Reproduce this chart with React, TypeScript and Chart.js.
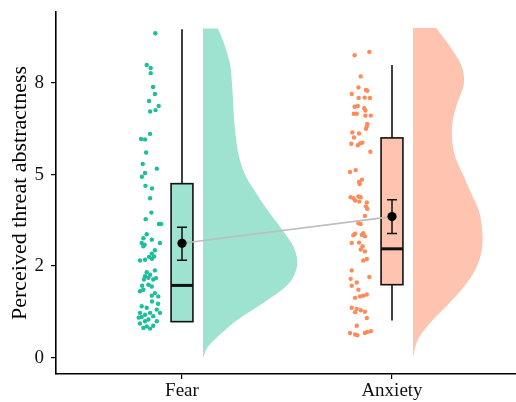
import { useEffect, useRef } from 'react';
import { Chart, registerables } from 'chart.js';

Chart.register(...registerables);

// ---------- data ----------
const categories = ['Fear', 'Anxiety'];
const categoryX = [1, 2];
const yTickValues = [0, 2.5, 5, 7.5];
const yTickLabels = ['0', '2', '5', '8'];
const yTitle = 'Perceived threat abstractness';

const fearValues = [
  8.86, 7.99, 7.91, 7.77, 7.39, 7.2, 7.01, 6.87, 6.76, 6.72, 6.11, 5.97, 5.96, 5.6, 5.29, 5.16, 5.04, 4.94, 4.69,
  4.62, 4.35, 3.96, 3.78, 3.65, 3.65, 3.37, 3.26, 3.22, 3.13, 3.08, 3.13, 3.04, 2.93, 2.84, 2.76, 2.75, 2.65, 2.67,
  2.7, 2.38, 2.33, 2.26, 2.22, 2.18, 2.13, 2.13, 2.17, 1.96, 1.99, 1.94, 1.85, 1.81, 1.76, 1.69, 1.67, 1.4, 1.36,
  1.31, 1.22, 1.17, 1.22, 1.22, 1.13, 1.11, 1.04, 0.99, 0.99, 0.93, 0.85, 0.87, 0.81, 0.79, 1.09, 1.47, 1.53,
];
const fearJitterX = [
  0.873, 0.832, 0.851, 0.851, 0.862, 0.871, 0.843, 0.889, 0.874, 0.848, 0.848, 0.805, 0.824, 0.829, 0.813, 0.88,
  0.824, 0.809, 0.826, 0.857, 0.848, 0.854, 0.827, 0.89, 0.9, 0.832, 0.816, 0.856, 0.808, 0.822, 0.895, 0.816,
  0.871, 0.856, 0.867, 0.843, 0.8, 0.824, 0.857, 0.871, 0.832, 0.848, 0.824, 0.84, 0.819, 0.863, 0.876, 0.81,
  0.84, 0.856, 0.816, 0.8, 0.871, 0.856, 0.887, 0.808, 0.832, 0.88, 0.8, 0.824, 0.848, 0.895, 0.863, 0.808,
  0.84, 0.824, 0.88, 0.8, 0.832, 0.863, 0.816, 0.848, 0.794, 0.886, 0.857,
];

const anxietyValues = [
  8.26, 8.35, 7.68, 7.38, 7.31, 7.29, 7.2, 7.09, 7.1, 7.09, 6.85, 6.87, 6.81, 6.75, 6.66, 6.66, 6.61, 6.61, 6.38,
  6.31, 6.25, 6.15, 6.12, 6.01, 5.84, 5.8, 5.85, 5.87, 5.62, 5.07, 5.12, 4.86, 4.8, 4.74, 4.38, 4.38, 4.35, 4.4,
  4.29, 4.26, 4.24, 4.13, 4.06, 3.87, 3.67, 3.65, 3.38, 3.34, 3.35, 3.31, 3.4, 3.13, 3.14, 3.04, 2.95, 2.9, 2.65,
  2.69, 2.38, 2.2, 2.15, 2.05, 1.96, 1.85, 1.69, 1.67, 1.72, 1.63, 1.36, 1.33, 1.29, 1.25, 1.24, 1.08, 0.87, 0.67,
  0.63, 0.61, 0.67, 0.7, 0.72,
];
const anxietyJitterX = [
  1.822, 1.892, 1.851, 1.84, 1.876, 1.882, 1.808, 1.841, 1.87, 1.895, 1.822, 1.837, 1.868, 1.873, 1.818, 1.832,
  1.873, 1.899, 1.882, 1.88, 1.876, 1.811, 1.843, 1.819, 1.806, 1.837, 1.848, 1.859, 1.897, 1.8, 1.827, 1.857,
  1.843, 1.846, 1.803, 1.851, 1.816, 1.84, 1.824, 1.844, 1.88, 1.876, 1.882, 1.871, 1.84, 1.851, 1.824, 1.816,
  1.856, 1.871, 1.863, 1.808, 1.843, 1.86, 1.851, 1.871, 1.863, 1.88, 1.808, 1.892, 1.803, 1.832, 1.808, 1.84,
  1.863, 1.848, 1.88, 1.824, 1.808, 1.832, 1.851, 1.871, 1.824, 1.88, 1.832, 1.8, 1.824, 1.835, 1.871, 1.882,
  1.899,
];

// box-plot statistics per category
const whiskerLow = [0.98, 1.01];
const boxQ1 = [0.98, 1.99];
const boxMedian = [1.97, 2.97];
const boxQ3 = [4.75, 6.0];
const whiskerHigh = [8.97, 7.99];

// means with error bars
const meanValues = [3.12, 3.85];
const meanLow = [2.66, 3.39];
const meanHigh = [3.56, 4.31];

// half-violin density outlines (level, half-width in x units)
const fearViolinLevels = [0, 0.25, 0.5, 1.0, 1.5, 2.0, 2.5, 3.0, 3.5, 4.0, 4.5, 5.0, 5.5, 6.0, 6.5, 7.0, 7.5, 8.0, 8.5, 8.99];
const fearViolinWidths = [0, 0.019, 0.057, 0.157, 0.29, 0.405, 0.448, 0.433, 0.376, 0.31, 0.252, 0.2, 0.171, 0.157, 0.148, 0.143, 0.138, 0.129, 0.105, 0.071];
const anxietyViolinLevels = [0, 0.5, 1.0, 1.5, 2.0, 2.5, 3.0, 3.5, 4.0, 4.5, 5.0, 5.5, 6.0, 6.5, 7.0, 7.5, 8.0, 8.5, 9.0];
const anxietyViolinWidths = [0, 0.024, 0.09, 0.176, 0.252, 0.305, 0.329, 0.329, 0.314, 0.276, 0.238, 0.2, 0.186, 0.19, 0.214, 0.243, 0.229, 0.176, 0.11];

const pointColors = ['#1CBE9B', '#FF8B58'];
const fillColors = ['#9DE3CF', '#FFC4B0'];

const violinOffset = 0.1;
const boxHalf = 0.052;
const capHalf = 0.024;

const FONT = "'Liberation Serif', 'Times New Roman', serif";

function splinePath(ctx: CanvasRenderingContext2D, pts: { x: number; y: number }[]) {
  for (let i = 0; i < pts.length - 1; i++) {
    const p0 = pts[i - 1] || pts[i];
    const p1 = pts[i];
    const p2 = pts[i + 1];
    const p3 = pts[i + 2] || p2;
    const c1x = p1.x + (p2.x - p0.x) / 6;
    const c1y = p1.y + (p2.y - p0.y) / 6;
    const c2x = p2.x - (p3.x - p1.x) / 6;
    const c2y = p2.y - (p3.y - p1.y) / 6;
    ctx.bezierCurveTo(c1x, c1y, c2x, c2y, p2.x, p2.y);
  }
}

const rainPlugin = {
  id: 'raincloud',
  beforeDatasetsDraw(chart: any) {
    const { ctx, chartArea } = chart;
    const xs = chart.scales.x;
    const ys = chart.scales.y;
    const violins = [
      { levels: fearViolinLevels, widths: fearViolinWidths },
      { levels: anxietyViolinLevels, widths: anxietyViolinWidths },
    ];
    ctx.save();
    ctx.beginPath();
    ctx.rect(chartArea.left, chartArea.top, chartArea.right - chartArea.left, chartArea.bottom - chartArea.top);
    ctx.clip();

    categoryX.forEach((cx, i) => {
      // half violin
      const base = cx + violinOffset;
      const v = violins[i];
      const pts = v.levels.map((lv, k) => ({ x: xs.getPixelForValue(base + v.widths[k]), y: ys.getPixelForValue(lv) }));
      ctx.beginPath();
      ctx.moveTo(xs.getPixelForValue(base), ys.getPixelForValue(v.levels[0]));
      ctx.lineTo(pts[0].x, pts[0].y);
      splinePath(ctx, pts);
      ctx.lineTo(xs.getPixelForValue(base), ys.getPixelForValue(v.levels[v.levels.length - 1]));
      ctx.closePath();
      ctx.fillStyle = fillColors[i];
      ctx.fill();

      // whiskers
      const px = xs.getPixelForValue(cx);
      ctx.strokeStyle = '#111';
      ctx.lineWidth = 1.6;
      ctx.beginPath();
      ctx.moveTo(px, ys.getPixelForValue(boxQ3[i]));
      ctx.lineTo(px, ys.getPixelForValue(whiskerHigh[i]));
      ctx.moveTo(px, ys.getPixelForValue(boxQ1[i]));
      ctx.lineTo(px, ys.getPixelForValue(whiskerLow[i]));
      ctx.stroke();

      // box
      const bl = xs.getPixelForValue(cx - boxHalf);
      const br = xs.getPixelForValue(cx + boxHalf);
      const bt = ys.getPixelForValue(boxQ3[i]);
      const bb = ys.getPixelForValue(boxQ1[i]);
      ctx.fillStyle = fillColors[i];
      ctx.fillRect(bl, bt, br - bl, bb - bt);
      ctx.lineWidth = 1.6;
      ctx.strokeRect(bl, bt, br - bl, bb - bt);

      // median
      ctx.lineWidth = 3;
      ctx.beginPath();
      const my = ys.getPixelForValue(boxMedian[i]);
      ctx.moveTo(bl, my);
      ctx.lineTo(br, my);
      ctx.stroke();

      // error bar
      const cl = xs.getPixelForValue(cx - capHalf);
      const cr = xs.getPixelForValue(cx + capHalf);
      const et = ys.getPixelForValue(meanHigh[i]);
      const eb = ys.getPixelForValue(meanLow[i]);
      ctx.lineWidth = 1.5;
      ctx.beginPath();
      ctx.moveTo(px, et);
      ctx.lineTo(px, eb);
      ctx.moveTo(cl, et);
      ctx.lineTo(cr, et);
      ctx.moveTo(cl, eb);
      ctx.lineTo(cr, eb);
      ctx.stroke();
    });
    ctx.restore();
  },
};

const zeroPad = (s: any) => {
  s.paddingTop = 0;
  s.paddingBottom = 0;
  s.paddingLeft = 0;
  s.paddingRight = 0;
};

export default function App() {
  const ref = useRef<HTMLCanvasElement | null>(null);

  useEffect(() => {
    if (!ref.current) return;
    const meanData = categoryX.map((x, i) => ({ x, y: meanValues[i] }));
    const chart = new Chart(ref.current, {
      type: 'scatter',
      data: {
        datasets: [
          {
            label: 'mean',
            data: meanData,
            pointRadius: 4.6,
            pointBackgroundColor: '#000',
            pointBorderWidth: 0,
            showLine: false,
          },
          {
            label: 'mean line',
            data: meanData,
            pointRadius: 0,
            showLine: true,
            borderColor: '#BDBDBD',
            borderWidth: 1.6,
          },
          {
            label: categories[0],
            data: fearValues.map((y, i) => ({ x: fearJitterX[i], y })),
            pointRadius: 2.2,
            pointBackgroundColor: pointColors[0],
            pointBorderWidth: 0,
          },
          {
            label: categories[1],
            data: anxietyValues.map((y, i) => ({ x: anxietyJitterX[i], y })),
            pointRadius: 2.2,
            pointBackgroundColor: pointColors[1],
            pointBorderWidth: 0,
          },
        ] as any,
      },
      options: {
        responsive: false,
        animation: false,
        devicePixelRatio: 1,
        layout: { autoPadding: false, padding: { top: 12, right: 0, bottom: 0, left: 0 } },
        plugins: { legend: { display: false }, tooltip: { enabled: false } },
        scales: {
          x: {
            type: 'linear',
            min: 0.4,
            max: 2.6,
            afterFit: (s: any) => {
              s.height = 28;
              zeroPad(s);
            },
            afterBuildTicks: (s: any) => {
              s.ticks = categoryX.map((v) => ({ value: v }));
            },
            ticks: {
              autoSkip: false,
              maxRotation: 0,
              padding: 1,
              color: '#111',
              font: { family: FONT, size: 19 },
              callback: (_v: any, i: number) => categories[i],
            },
            grid: { display: true, drawOnChartArea: false, drawTicks: true, tickLength: 5, color: '#000', lineWidth: 1.2 },
            border: { display: true, color: '#000', width: 1.6 },
          },
          y: {
            type: 'linear',
            min: -0.45,
            max: 9.44,
            afterFit: (s: any) => {
              s.width = 56;
              zeroPad(s);
            },
            afterBuildTicks: (s: any) => {
              s.ticks = yTickValues.map((v) => ({ value: v }));
            },
            ticks: {
              padding: 7,
              color: '#111',
              font: { family: FONT, size: 19 },
              callback: (_v: any, i: number) => yTickLabels[i],
            },
            title: {
              display: true,
              text: yTitle,
              color: '#000',
              font: { family: FONT, size: 22 },
              padding: { top: 7, bottom: 0 },
            },
            grid: { display: true, drawOnChartArea: false, drawTicks: true, tickLength: 5, color: '#000', lineWidth: 1.2 },
            border: { display: true, color: '#000', width: 1.6 },
          },
        },
      },
      plugins: [rainPlugin],
    });
    return () => chart.destroy();
  }, []);

  return (
    <div style={{ position: 'fixed', left: 0, top: 0, width: 516, height: 402, overflow: 'hidden', background: '#fff' }}>
      <canvas ref={ref} width={518} height={402} style={{ display: 'block' }} />
    </div>
  );
}
